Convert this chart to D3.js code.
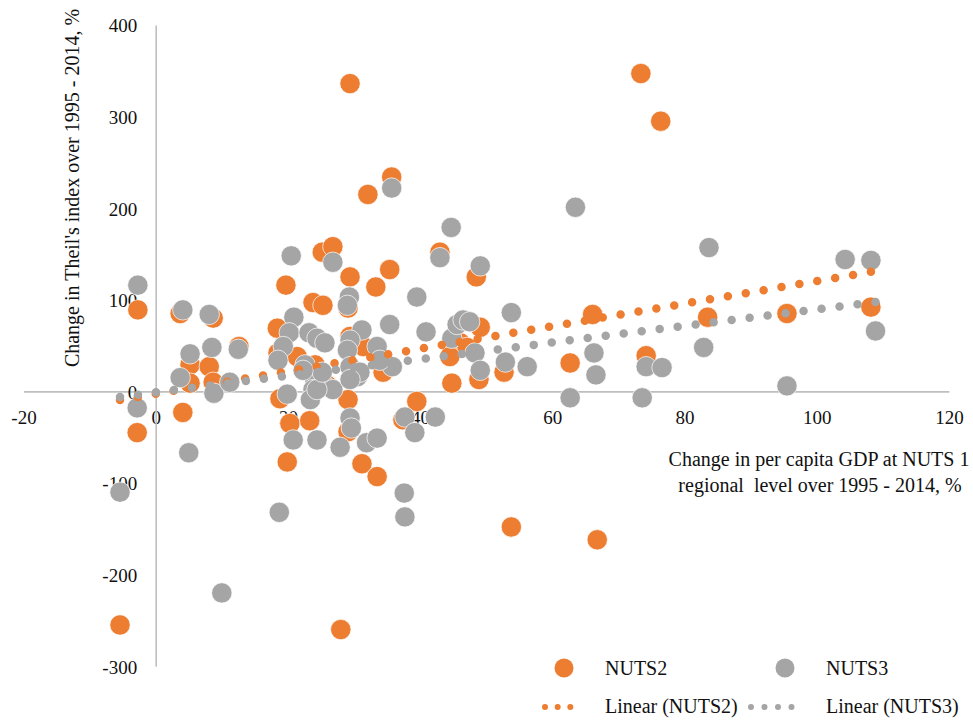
<!DOCTYPE html>
<html>
<head>
<meta charset="utf-8">
<script src="https://cdn.jsdelivr.net/npm/d3@7"></script>
<style>
  html, body { margin: 0; padding: 0; background: #fff; }
  svg { display: block; }
  text { font-family: "Liberation Serif", "Times New Roman", serif; fill: #111; }
</style>
</head>
<body>
<svg id="chart" width="973" height="720"></svg>
<script>
// ---------- data ----------
const nuts2X = [-5.4, -2.7, -2.8, 3.7, 8.7, 5.2, 8.1, 12.6, 5.2, 8.7, 4.1, 18.4, 19.7, 25.2, 26.8, 29.4, 23.8, 25.3, 33.3, 35.4,
  35.7, 32.1, 29.4, 73.4, 76.4, 43.0, 48.5, 18.5, 21.4, 18.8, 20.3, 23.3, 19.9, 24.1, 29.1, 29.4, 31.4, 34.4, 29.1, 29.1,
  31.2, 33.5, 37.4, 39.5, 28.0, 53.8, 66.8, 49.1, 46.1, 47.1, 44.5, 48.9, 44.8, 52.7, 62.7, 66.1, 74.2, 83.5, 95.5, 108.2, 25.9];
const nuts2Y = [-255, 89, -45, 85, 80, 29, 27, 49, 9, 10, -23, 69, 116, 152, 158, 125, 97, 94, 114, 133,
  234, 215, 336, 347, 295, 152, 125, 42, 38, -8, -35, -32, -77, 29, 91, 60, 49, 21, -9, -44,
  -79, -93, -31, -11, -260, -148, -162, 70, 53, 48, 38, 13, 9, 21, 31, 84, 39, 81, 85, 92, 7];

const nuts3X = [-5.4, -2.7, -2.8, 4.1, 8.1, 5.2, 8.5, 12.5, 3.7, 8.8, 11.2, 5.0, 10.0, 18.7, 20.5, 20.9, 20.2, 19.3, 18.5, 22.6,
  23.2, 24.4, 25.6, 24.0, 23.8, 23.4, 19.9, 25.6, 26.8, 20.8, 24.4, 27.9, 26.8, 29.3, 29.0, 31.2, 29.4, 29.0, 30.5, 29.4,
  30.9, 33.5, 35.4, 35.8, 35.7, 29.4, 29.6, 31.9, 33.5, 37.7, 39.2, 42.3, 37.6, 37.7, 39.5, 40.9, 43.0, 44.7, 49.1, 44.8,
  45.6, 46.5, 47.5, 48.3, 49.1, 52.9, 53.8, 56.2, 63.5, 66.3, 66.6, 62.7, 73.6, 74.2, 76.6, 82.9, 83.7, 95.5, 104.3, 108.2,
  108.9, 24.4, 25.2, 22.3, 29.4, 33.9];
const nuts3Y = [-110, 116, -18, 89, 84, 41, 48, 46, 15, -2, 10, -67, -220, -132, 148, 81, 64, 49, 34, 29,
  64, 58, 53, 15, 2, -9, -3, 6, 2, -53, -53, -61, 141, 103, 94, 67, 56, 45, 16, 27,
  21, 49, 73, 27, 222, -29, -40, -56, -51, -28, -45, -28, -111, -137, 103, 65, 146, 179, 137, 58,
  73, 78, 76, 42, 23, 32, 86, 27, 201, 42, 18, -7, -7, 27, 26, 48, 157, 6, 144, 143,
  66, 2, 21, 23, 13, 34];

// linear trend lines: end points (x range of each series)
const trend2X = [-5.4, 108.2];
const trend2Y = [-9.3, 130.5];
const trend3X = [-5.4, 108.9];
const trend3Y = [-6.0, 97.7];

const xTicks = [-20, 0, 20, 40, 60, 80, 100, 120];
const yTicks = [-300, -200, -100, 0, 100, 200, 300, 400];

const seriesNames = ["NUTS2", "NUTS3"];
const trendNames = ["Linear (NUTS2)", "Linear (NUTS3)"];
const colors = ["#ED7D31", "#A5A5A5"];

const yTitle = "Change in Theil's index over 1995 - 2014, %";
const xTitle = ["Change in per capita GDP at NUTS 1", "regional  level over 1995 - 2014, %"];

// ---------- drawing ----------
const svg = d3.select("#chart");
const x = d3.scaleLinear().domain([-20, 120]).range([23.5, 948.9]);
const y = d3.scaleLinear().domain([-300, 400]).range([666.2, 25.0]);

const axisColor = "#BFBFBF";

// x axis
const gx = svg.append("g").attr("transform", `translate(0,${y(0)})`)
  .call(d3.axisBottom(x).tickValues(xTicks).tickSize(0).tickFormat(d3.format("d")));
gx.select(".domain").attr("stroke", axisColor).attr("stroke-width", 1.6);
gx.selectAll(".tick text").attr("y", 33).attr("dy", 0)
  .style("font-family", "'Liberation Serif', serif").style("font-size", "19px").attr("fill", "#111");

// y axis
const gy = svg.append("g").attr("transform", `translate(${x(0)},0)`)
  .call(d3.axisLeft(y).tickValues(yTicks).tickSize(0).tickFormat(d3.format("d")));
gy.select(".domain").attr("stroke", axisColor).attr("stroke-width", 1.6);
gy.selectAll(".tick text").attr("x", -18.5).attr("dy", "0.36em")
  .style("font-family", "'Liberation Serif', serif").style("font-size", "19px").attr("fill", "#111");

// hyphen-minus like the reference
svg.selectAll(".tick text").text(d => String(d));

// bubbles
const R = 10.2;
function bubbles(xs, ys, color) {
  svg.append("g").selectAll("circle")
    .data(xs.map((v, i) => [v, ys[i]]))
    .join("circle")
    .attr("cx", d => x(d[0]))
    .attr("cy", d => y(d[1]))
    .attr("r", R)
    .attr("fill", color)
    .attr("stroke", "#fff")
    .attr("stroke-width", 0.7);
}
bubbles(nuts2X, nuts2Y, colors[0]);
bubbles(nuts3X, nuts3Y, colors[1]);

// trend lines (round dotted), spacing adjusted so a dot sits on each end
const line = d3.line().x(d => x(d[0])).y(d => y(d[1]));
function trend(xs, ys, color) {
  const p = svg.append("path")
    .datum(xs.map((v, i) => [v, ys[i]]))
    .attr("d", line)
    .attr("fill", "none")
    .attr("stroke", color)
    .attr("stroke-width", 8.5)
    .attr("stroke-linecap", "round");
  const L = p.node().getTotalLength();
  const gap = L / Math.round(L / 18.3);
  p.attr("stroke-dasharray", `0 ${gap}`);
}
trend(trend2X, trend2Y, colors[0]);
trend(trend3X, trend3Y, colors[1]);

// axis titles
svg.append("text")
  .attr("transform", `translate(79,188) rotate(-90)`)
  .attr("text-anchor", "middle")
  .style("font-size", "20px")
  .text(yTitle);

svg.append("text")
  .attr("x", 819).attr("y", 466)
  .attr("text-anchor", "middle")
  .style("font-size", "20px")
  .text(xTitle[0]);
svg.append("text")
  .attr("x", 820).attr("y", 492)
  .attr("text-anchor", "middle")
  .style("font-size", "20px")
  .attr("xml:space", "preserve")
  .style("white-space", "pre")
  .text(xTitle[1]);

// legend
const legend = svg.append("g");
const legX = [564, 785];
legX.forEach((lx, i) => {
  legend.append("circle").attr("cx", lx).attr("cy", 668).attr("r", 9.5).attr("fill", colors[i]);
  legend.append("text").attr("x", lx + 41).attr("y", 675).style("font-size", "20px").text(seriesNames[i]);
});
const legLineX = [[545, 583], [751, 805]];
legLineX.forEach((seg, i) => {
  legend.append("line")
    .attr("x1", seg[0]).attr("x2", seg[1]).attr("y1", 707).attr("y2", 707)
    .attr("stroke", colors[i]).attr("stroke-width", 6)
    .attr("stroke-linecap", "round")
    .attr("stroke-dasharray", i === 0 ? "0 12.67" : "0 13.5");
  legend.append("text").attr("x", [605, 826][i]).attr("y", 713).style("font-size", "20px").text(trendNames[i]);
});
</script>
</body>
</html>
